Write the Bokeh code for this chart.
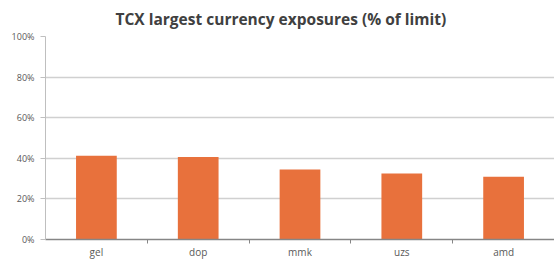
import numpy as np
from bokeh.plotting import figure
from bokeh.models import FixedTicker, Range1d, ColumnDataSource
from bokeh.embed import file_html
from bokeh.resources import INLINE

title_text = "TCX largest currency exposures (% of limit)"
categories = ["gel", "dop", "mmk", "uzs", "amd"]
values = [41.2, 40.7, 34.5, 32.5, 30.9]
y_ticks = [0, 20, 40, 60, 80, 100]
y_tick_labels = ["0%", "20%", "40%", "60%", "80%", "100%"]

x_pos = np.arange(len(categories)) + 0.5
src = ColumnDataSource(dict(x=x_pos, top=values, cat=categories))

p = figure(width=554, height=261, output_backend="svg", toolbar_location=None,
           x_range=Range1d(0, len(categories)), y_range=Range1d(0, 100),
           title=title_text,
           min_border_left=45, min_border_right=0, min_border_top=36, min_border_bottom=19)

p.title.align = "left"
p.title.offset = 70
p.title.vertical_align = "top"
p.title.text_font = "Open Sans"
p.title.text_font_style = "bold"
p.title.text_font_size = "15.5px"
p.title.text_color = "#404040"

p.vbar(x="x", top="top", width=0.4, source=src, color="#E8713C", line_color=None)

p.outline_line_color = None
p.background_fill_color = "white"
p.border_fill_color = "white"

# x axis
xa = p.xaxis[0]
xa.ticker = FixedTicker(ticks=list(x_pos), minor_ticks=list(np.arange(1, len(categories) + 1)))
xa.major_label_overrides = {float(x): c for x, c in zip(x_pos, categories)}
xa.major_tick_out = 0
xa.major_tick_in = 0
xa.minor_tick_out = 4
xa.minor_tick_in = 0
xa.minor_tick_line_color = "#868686"
xa.axis_line_color = "#868686"
xa.axis_line_width = 1.5
xa.major_label_text_font = "Open Sans"
xa.major_label_text_font_size = "10px"
xa.major_label_text_color = "#595959"
xa.major_label_standoff = 1
p.xgrid.grid_line_color = None

# y axis
ya = p.yaxis[0]
ya.ticker = FixedTicker(ticks=y_ticks)
ya.major_label_overrides = {t: l for t, l in zip(y_ticks, y_tick_labels)}
ya.major_tick_out = 5
ya.major_tick_in = 0
ya.minor_tick_line_color = None
ya.axis_line_color = "#bfbfbf"
ya.major_tick_line_color = "#bfbfbf"
ya.major_label_text_font = "Open Sans"
ya.major_label_text_font_size = "9px"
ya.major_label_text_color = "#595959"
ya.major_label_standoff = 6
p.ygrid.ticker = FixedTicker(ticks=y_ticks)
p.ygrid.grid_line_color = "#d0d0d0"
p.ygrid.grid_line_width = 1.5

open("out.html", "w").write(file_html(p, INLINE))
